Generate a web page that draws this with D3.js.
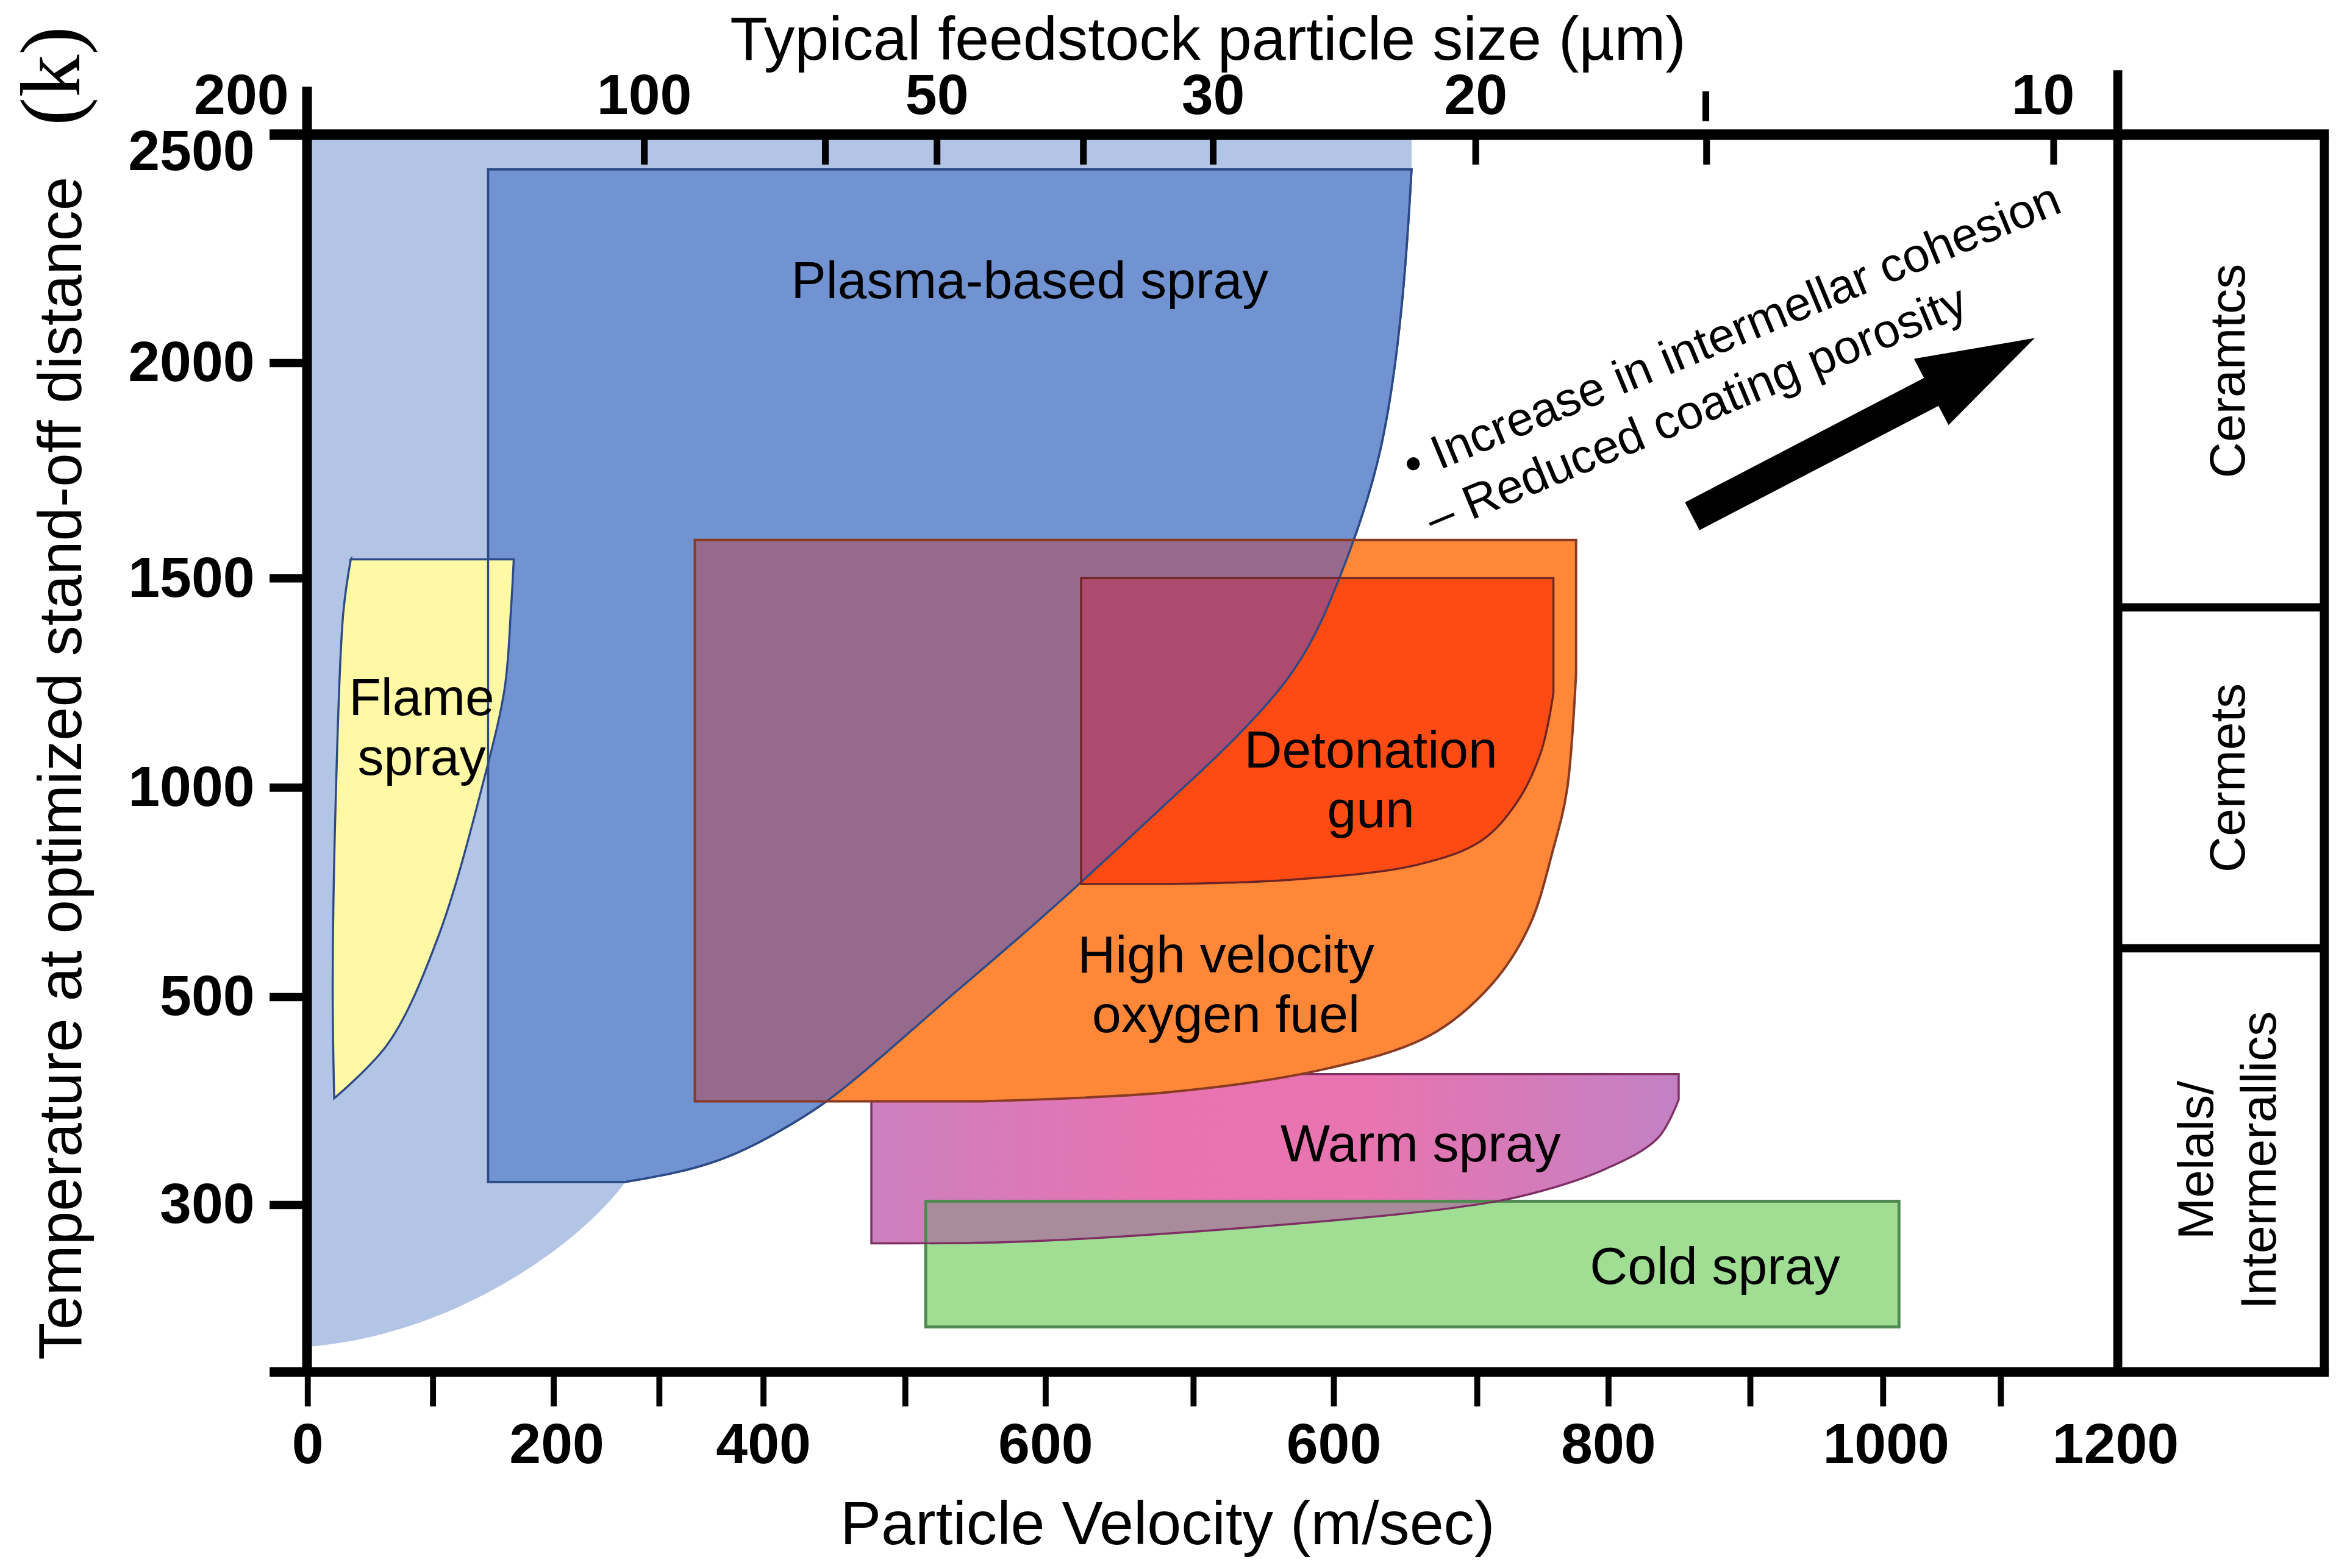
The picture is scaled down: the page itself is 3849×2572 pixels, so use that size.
<!DOCTYPE html>
<html>
<head>
<meta charset="utf-8">
<script src="https://cdn.jsdelivr.net/npm/d3@7"></script>
<style>
  html, body { margin: 0; padding: 0; background: #fff; }
  svg { display: block; }
  text { font-family: "Liberation Sans", Arial, sans-serif; fill: #000; }
</style>
</head>
<body>
<div id="main"></div>
<script>
/*********************************************************
 * Data (velocity m/sec on x, temperature K on y)
 * the original axes are not evenly spaced, so tick and
 * label positions are kept apart from their texts
 *********************************************************/
// bottom axis
const velTicks = [0, 83, 163, 233, 302, 396, 489, 587, 680, 775, 862, 956, 1044, 1122];
const velLabelAt = [0, 165, 302, 489, 680, 862, 1046, 1198];
const velLabels = ['0', '200', '400', '600', '600', '800', '1000', '1200'];

// top axis (particle size)
const sizeTicks = [223, 343, 417, 514, 600, 774, 927, 1157];
const sizeLabelAt = [-44, 223, 417, 600, 774, 1150];
const sizeLabels = ['200', '100', '50', '30', '20', '10'];
const sizeMarkAt = [927];

// left axis
const tempTicks = [2500, 2040, 1605, 1182, 759, 339];
const tempLabelAt = [2467, 2040, 1605, 1182, 759, 339];
const tempLabels = ['2500', '2000', '1500', '1000', '500', '300'];

// material classes on the right
const materials = ['Ceramtcs', 'Cermets', 'Melals/\nIntermerallics'];
const materialBreaks = [2500, 1545, 856, 0];

// plasma-based spray: right / lower edge, top to bottom
const plasmaEdge = [[732, 2430], [727, 2168], [714, 1865], [694, 1681], [684, 1602], [669, 1490],
  [650, 1397], [629, 1324], [604, 1246], [579, 1176], [546, 1082], [514, 992], [472, 877],
  [426, 759], [387, 653], [346, 547], [322, 502], [298, 460], [273, 426], [245, 402], [211, 384]];
const plasmaCoreLeft = 120;
// outer (light) envelope: runs under the core, then out to the axis
const envelopeTop = 2500;
const envelopeHidden = [[392, 777], [293, 565], [233, 460], [211, 384]];
const envelopeTail = [[178, 248], [94, 73], [0, 51]]; // bezier controls + end

// flame spray outline
const flameEdge = [[29, 1642], [137, 1642], [135, 1533], [131, 1382], [118, 1206], [87, 880],
  [54, 665], [18, 553], [17, 780], [19, 1155], [24, 1533]];

// boxes: [vel min, vel max, temp min, temp max] and their rounded corner
const hvofBox = [257, 841, 547, 1681];
const hvofCorner = [[841, 1412], [835, 1176], [826, 1058], [810, 901], [785, 783], [744, 680],
  [673, 611], [570, 565], [447, 547]];
const detBox = [513, 826, 986, 1604];
const detCorner = [[826, 1372], [818, 1255], [802, 1152], [778, 1073], [736, 1025], [654, 995], [570, 986]];
const warmBox = [374, 909, 260, 602];
const warmCorner = [[909, 550], [895, 472], [861, 411], [811, 360], [763, 333], [616, 290],
  [469, 263], [374, 260]];
const coldBox = [410, 1055, 91, 345];

const regionNames = ['Plasma-based spray', 'Flame\nspray', 'Detonation\ngun',
  'High velocity\noxygen fuel', 'Warm spray', 'Cold spray'];
const regionLabelAt = [[479, 2170], [76, 1327], [705, 1221], [609, 807], [738, 426], [933, 178]];

// trend note and arrow
const noteLines = ['\u2022 Increase in intermellar cohesion', '\u2013 Reduced coating porosity'];
const noteAt = [[732, 1799], [747, 1690]];
const arrowFrom = [918, 1729];
const arrowTo = [1145, 2089];

/*********************************************************
 * Layout
 *********************************************************/
const viewW = 1568, viewH = 1048;
const outW = 3849, outH = 2572;
const margin = { t: 90, r: 153, b: 131, l: 205 };
const panelRight = 1553;

const svg = d3.select('#main')
  .append('svg')
  .attr('width', outW)
  .attr('height', outH)
  .attr('viewBox', `0 0 ${viewW} ${viewH}`);

const x = d3.scaleLinear().domain([0, 1200]).range([margin.l, viewW - margin.r]);
const y = d3.scaleLinear().domain([0, 2500]).range([viewH - margin.b, margin.t]);

const pt = p => `${x(p[0])},${y(p[1])}`;
const smooth = d3.line()
  .x(d => x(d[0]))
  .y(d => y(d[1]))
  .curve(d3.curveCatmullRom.alpha(0.5));
const soft = d3.line()
  .x(d => x(d[0]))
  .y(d => y(d[1]))
  .curve(d3.curveBasis);
const seg = pts => smooth(pts).replace(/^M/, 'L');
const softSeg = pts => soft(pts).replace(/^M/, 'L');

function roundedBox(box, corner) {
  return 'M' + pt([box[0], box[3]]) + 'L' + pt([box[1], box[3]]) + seg(corner) +
    'L' + pt([box[0], box[2]]) + 'Z';
}

const envelopePath = 'M' + pt([0, envelopeTop]) + 'L' + pt([plasmaEdge[0][0], envelopeTop]) +
  softSeg(plasmaEdge.slice(0, 12).concat(envelopeHidden)) +
  'C' + envelopeTail.map(pt).join(' ') + 'Z';
const plasmaPath = 'M' + pt([plasmaCoreLeft, plasmaEdge[0][1]]) + softSeg(plasmaEdge) +
  'L' + pt([plasmaCoreLeft, plasmaEdge[plasmaEdge.length - 1][1]]) + 'Z';
const flamePath = 'M' + pt(flameEdge[0]) + seg(flameEdge.slice(1, 8)) +
  seg(flameEdge.slice(7).concat([flameEdge[0]])) + 'Z';
const hvofPath = roundedBox(hvofBox, hvofCorner);
const detPath = roundedBox(detBox, detCorner);
const warmPath = roundedBox(warmBox, warmCorner);

/*********************************************************
 * defs
 *********************************************************/
const defs = svg.append('defs');
defs.append('linearGradient')
  .attr('id', 'warmFill')
  .selectAll('stop')
  .data([[0, '#cc80c0'], [0.35, '#e773b1'], [0.62, '#e874b0'], [1, '#c281c4']])
  .enter().append('stop')
  .attr('offset', d => d[0])
  .attr('stop-color', d => d[1]);

defs.append('clipPath').attr('id', 'plasmaClip')
  .append('path').attr('d', plasmaPath);
defs.append('clipPath').attr('id', 'coldClip')
  .append('rect')
  .attr('x', x(coldBox[0])).attr('y', y(coldBox[3]))
  .attr('width', x(coldBox[1]) - x(coldBox[0]))
  .attr('height', y(coldBox[2]) - y(coldBox[3]));

/*********************************************************
 * Regions
 *********************************************************/
const plot = svg.append('g').attr('class', 'plot');

plot.append('path').attr('d', envelopePath).attr('fill', '#b3c5e5');
plot.append('path').attr('d', plasmaPath)
  .attr('fill', '#7193d1').attr('stroke', '#2c4a86').attr('stroke-width', 1.4);
plot.append('path').attr('d', flamePath)
  .attr('fill', '#fff8a5').attr('stroke', '#2c4a86').attr('stroke-width', 1.4);

// cold / warm spray
const coldRect = sel => sel
  .attr('x', x(coldBox[0])).attr('y', y(coldBox[3]))
  .attr('width', x(coldBox[1]) - x(coldBox[0]))
  .attr('height', y(coldBox[2]) - y(coldBox[3]));
plot.append('rect').call(coldRect).attr('fill', '#a0de94');
plot.append('path').attr('d', warmPath).attr('fill', 'url(#warmFill)');
plot.append('path').attr('d', warmPath).attr('fill', '#a98c9b').attr('clip-path', 'url(#coldClip)');
plot.append('rect').call(coldRect)
  .attr('fill', 'none').attr('stroke', '#4f8a50').attr('stroke-width', 2);
plot.append('path').attr('d', warmPath)
  .attr('fill', 'none').attr('stroke', '#7e2f63').attr('stroke-width', 1.4);

// HVOF and detonation gun, darker where they sit on the plasma region
plot.append('path').attr('d', hvofPath).attr('fill', '#fe8738');
plot.append('path').attr('d', hvofPath).attr('fill', '#966a8c').attr('clip-path', 'url(#plasmaClip)');
plot.append('path').attr('d', detPath).attr('fill', '#fe4b14');
plot.append('path').attr('d', detPath).attr('fill', '#ad4b6e').attr('clip-path', 'url(#plasmaClip)');
plot.append('path').attr('d', plasmaPath)
  .attr('fill', 'none').attr('stroke', '#2c4a86').attr('stroke-width', 1.4);
plot.append('path').attr('d', hvofPath)
  .attr('fill', 'none').attr('stroke', '#8a3a22').attr('stroke-width', 1.6);
plot.append('path').attr('d', detPath)
  .attr('fill', 'none').attr('stroke', '#6e2424').attr('stroke-width', 1.4);

// region names
regionNames.forEach((name, i) => {
  const t = plot.append('text')
    .attr('x', x(regionLabelAt[i][0]))
    .attr('y', y(regionLabelAt[i][1]))
    .attr('text-anchor', 'middle')
    .attr('font-size', 35);
  name.split('\n').forEach((line, j) => {
    t.append('tspan')
      .attr('x', x(regionLabelAt[i][0]))
      .attr('dy', j === 0 ? 0 : '1.14em')
      .text(line);
  });
});

/*********************************************************
 * Trend note + arrow
 *********************************************************/
noteLines.forEach((line, i) => {
  svg.append('text')
    .attr('transform', `translate(${x(noteAt[i][0])},${y(noteAt[i][1])}) rotate(-22.5)`)
    .attr('font-size', 32)
    .text(line);
});

(function drawArrow() {
  const p0 = [x(arrowFrom[0]), y(arrowFrom[1])];
  const p1 = [x(arrowTo[0]), y(arrowTo[1])];
  const len = Math.hypot(p1[0] - p0[0], p1[1] - p0[1]);
  const d = [(p1[0] - p0[0]) / len, (p1[1] - p0[1]) / len];
  const n = [-d[1], d[0]];
  const shaft = 10.5, headLen = 78, headHalf = 25;
  const b = [p1[0] - d[0] * headLen, p1[1] - d[1] * headLen];
  const pts = [
    [p0[0] + n[0] * shaft, p0[1] + n[1] * shaft],
    [b[0] + n[0] * shaft, b[1] + n[1] * shaft],
    [b[0] + n[0] * headHalf, b[1] + n[1] * headHalf],
    p1,
    [b[0] - n[0] * headHalf, b[1] - n[1] * headHalf],
    [b[0] - n[0] * shaft, b[1] - n[1] * shaft],
    [p0[0] - n[0] * shaft, p0[1] - n[1] * shaft]
  ];
  svg.append('polygon')
    .attr('points', pts.map(p => p.join(',')).join(' '))
    .attr('fill', '#000');
})();

/*********************************************************
 * Axes
 *********************************************************/
const axes = svg.append('g').attr('class', 'axes');
const x0 = x(0), xEnd = x(1200), yTop = y(2500), yBot = y(0);

function cleanAxis(g, size, weight) {
  g.select('.domain').remove();
  g.attr('font-size', size).attr('font-family', null).attr('font-weight', weight);
}

// bottom
axes.append('g')
  .attr('transform', `translate(0,${yBot})`)
  .call(d3.axisBottom(x).tickValues(velTicks).tickSize(23).tickFormat(''))
  .call(g => cleanAxis(g, 38, 'bold'))
  .call(g => g.selectAll('line').attr('stroke-width', 4));
axes.append('g')
  .attr('transform', `translate(0,${yBot})`)
  .call(d3.axisBottom(x).tickValues(velLabelAt).tickSize(0).tickPadding(34)
    .tickFormat((d, i) => velLabels[i]))
  .call(g => cleanAxis(g, 38, 'bold'));

// top
axes.append('g')
  .attr('transform', `translate(0,${yTop})`)
  .call(d3.axisTop(x).tickValues(sizeTicks).tickSize(-20).tickFormat(''))
  .call(g => cleanAxis(g, 38, 'bold'))
  .call(g => g.selectAll('line').attr('stroke-width', 4.5));
axes.append('g')
  .attr('transform', `translate(0,${yTop})`)
  .call(d3.axisTop(x).tickValues(sizeLabelAt).tickSize(0).tickPadding(14)
    .tickFormat((d, i) => sizeLabels[i]))
  .call(g => cleanAxis(g, 38, 'bold'));
axes.selectAll('.size-mark')
  .data(sizeMarkAt)
  .enter().append('line')
  .attr('class', 'size-mark')
  .attr('x1', d => x(d)).attr('x2', d => x(d))
  .attr('y1', yTop - 29).attr('y2', yTop - 9)
  .attr('stroke', '#000').attr('stroke-width', 4.5);

// left
axes.append('g')
  .attr('transform', `translate(${x0},0)`)
  .call(d3.axisLeft(y).tickValues(tempTicks).tickSize(25).tickFormat(''))
  .call(g => cleanAxis(g, 38, 'bold'))
  .call(g => g.selectAll('line').attr('stroke-width', 5.5));
axes.append('g')
  .attr('transform', `translate(${x0},0)`)
  .call(d3.axisLeft(y).tickValues(tempLabelAt).tickSize(0).tickPadding(35)
    .tickFormat((d, i) => tempLabels[i]))
  .call(g => cleanAxis(g, 38, 'bold'));

// frame lines
const frame = [
  [x0 - 25, yTop, panelRight + 3, yTop, 7],
  [x0 - 25, yBot, panelRight + 3, yBot, 6.5],
  [x0, yTop - 32, x0, yBot, 6.5],
  [xEnd, yTop - 43, xEnd, yBot, 6],
  [panelRight, yTop, panelRight, yBot, 6]
];
axes.selectAll('.frame')
  .data(frame)
  .enter().append('line')
  .attr('class', 'frame')
  .attr('x1', d => d[0]).attr('y1', d => d[1])
  .attr('x2', d => d[2]).attr('y2', d => d[3])
  .attr('stroke', '#000')
  .attr('stroke-width', d => d[4]);

// material panel
axes.selectAll('.divider')
  .data(materialBreaks.slice(1, -1))
  .enter().append('line')
  .attr('class', 'divider')
  .attr('x1', xEnd).attr('x2', panelRight)
  .attr('y1', d => y(d)).attr('y2', d => y(d))
  .attr('stroke', '#000').attr('stroke-width', 5.5);

const panelMid = (xEnd + panelRight) / 2 + 4;
materials.forEach((m, i) => {
  const cy = (y(materialBreaks[i]) + y(materialBreaks[i + 1])) / 2;
  const lines = m.split('\n');
  lines.forEach((line, j) => {
    const cx = panelMid + (j - (lines.length - 1) / 2) * 42;
    axes.append('text')
      .attr('transform', `translate(${cx},${cy}) rotate(-90)`)
      .attr('text-anchor', 'middle')
      .attr('dominant-baseline', 'central')
      .attr('font-size', 33.5)
      .text(line);
  });
});

/*********************************************************
 * Titles
 *********************************************************/
svg.append('text')
  .attr('x', (x0 + xEnd) / 2 - 3)
  .attr('y', 40)
  .attr('text-anchor', 'middle')
  .attr('font-size', 41)
  .text('Typical feedstock particle size (\u00b5m)');

svg.append('text')
  .attr('x', (x0 + xEnd) / 2 - 30)
  .attr('y', 1032)
  .attr('text-anchor', 'middle')
  .attr('font-size', 41)
  .text('Particle Velocity (m/sec)');

svg.append('text')
  .attr('transform', `translate(54,${yBot - 8}) rotate(-90)`)
  .attr('font-size', 40.7)
  .text('Temperature at optimized stand-off distance');

svg.append('text')
  .attr('transform', 'translate(53,84) rotate(-90)')
  .attr('font-size', 57)
  .style('font-family', '"Liberation Serif", "DejaVu Serif", serif')
  .text('(k)');
</script>
</body>
</html>
